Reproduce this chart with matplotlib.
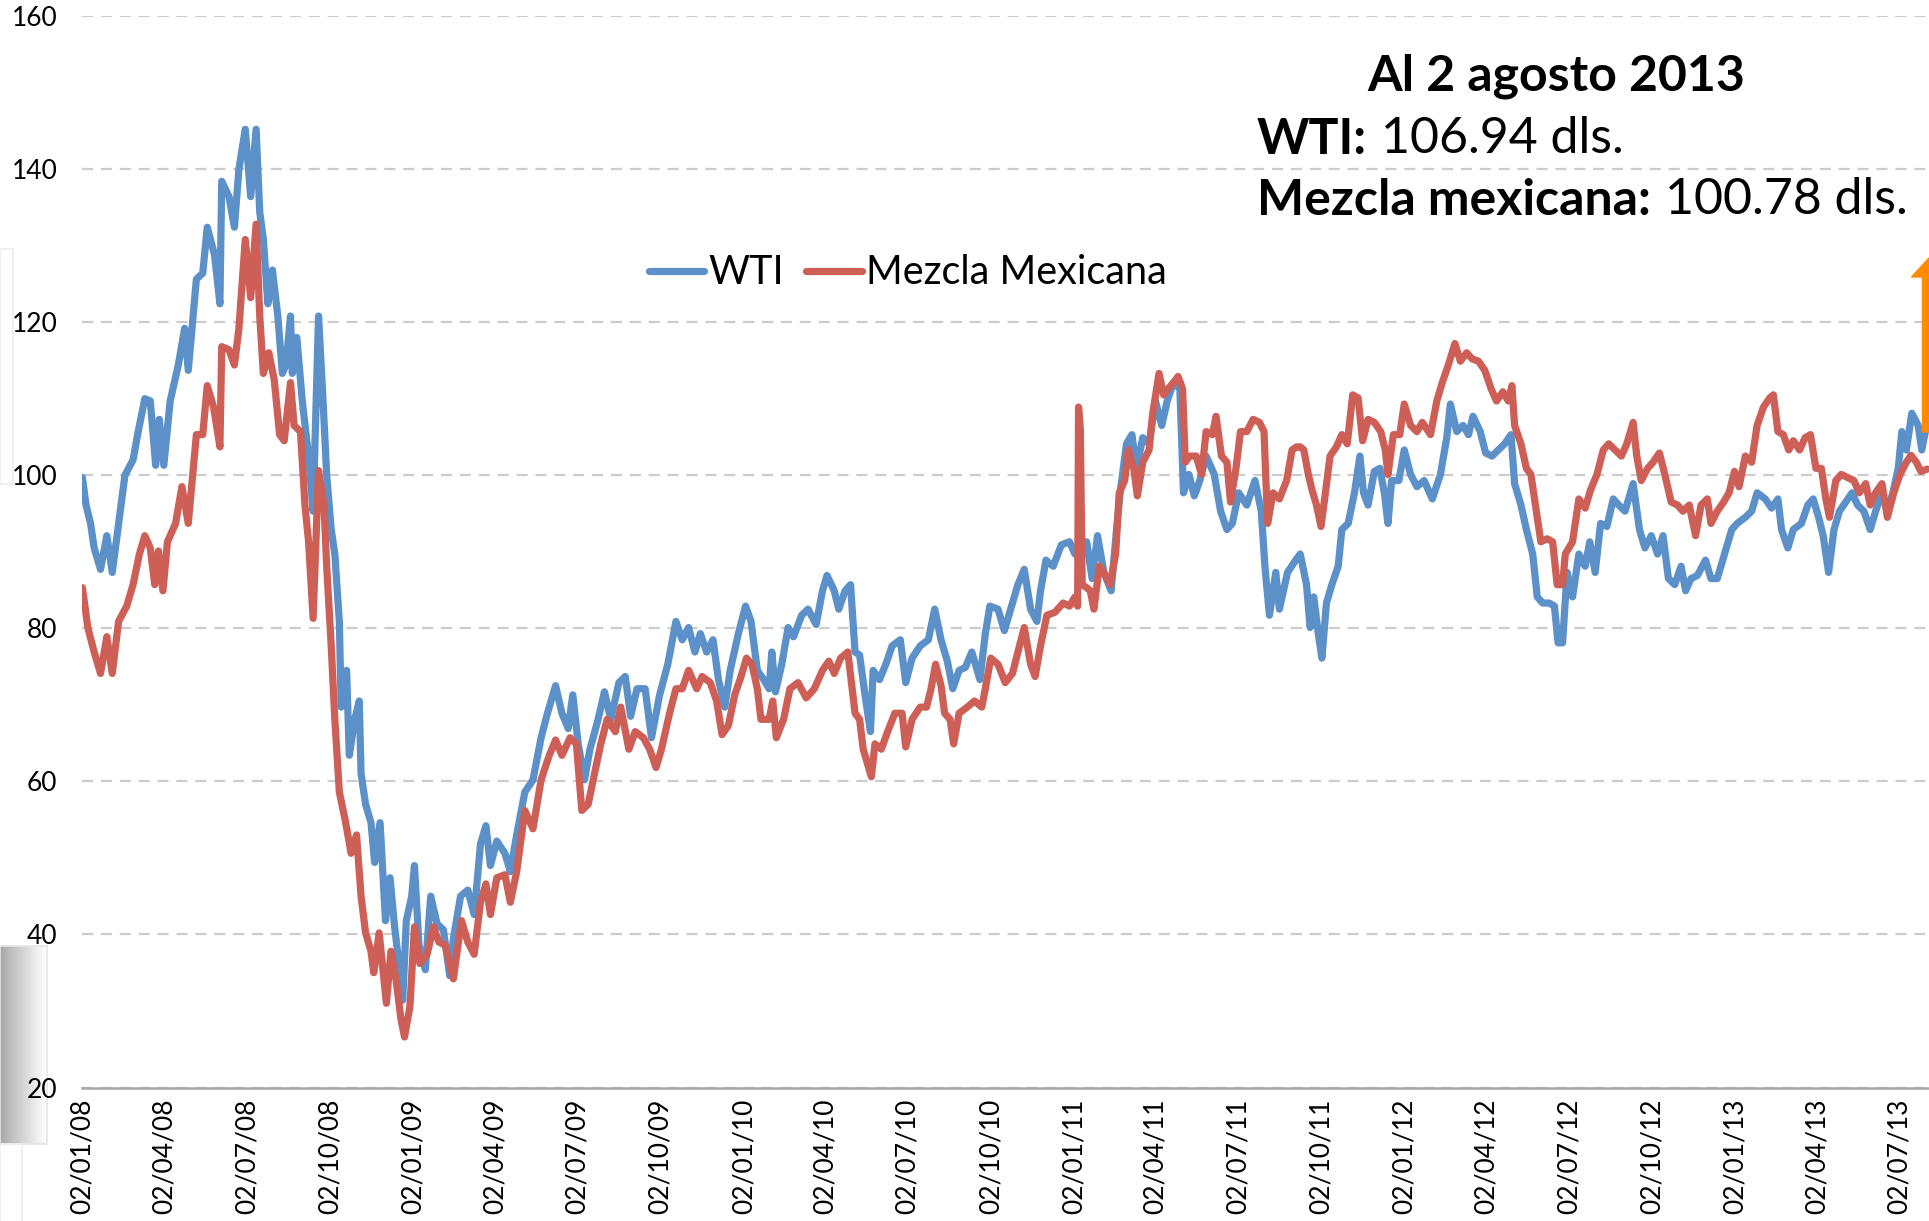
import numpy as np
import matplotlib
matplotlib.use('Agg')
import matplotlib.pyplot as plt
import matplotlib.dates as mdates
import matplotlib.patches as mpatches
from matplotlib.transforms import IdentityTransform

plt.rcParams['font.family'] = ['Lato', 'DejaVu Sans']

# days counted from 02/01/2008
start = np.datetime64('2008-01-02')

wti_day = [
    0, 4, 9, 13, 20, 27, 33, 40, 47, 56, 61, 69, 75, 81, 85, 90, 97, 106, 113, 117,
    126, 133, 138, 146, 152, 154, 162, 168, 173, 180, 186, 192, 196, 200, 205, 210,
    216, 221, 225, 230, 232, 237, 243, 250, 255, 261, 266, 270, 275, 279, 284, 286,
    292, 295, 301, 306, 308, 313, 319, 323, 329, 335, 340, 345, 349, 354, 358, 364,
    367, 372, 379, 385, 392, 399, 406, 410, 418, 426, 433, 440, 446, 451, 458, 467,
    473, 480, 489, 498, 507, 514, 523, 530, 537, 542, 548, 555, 561, 570, 577, 584,
    593, 600, 606, 613, 622, 629, 638, 647, 656, 663, 670, 677, 683, 690, 697, 703,
    710, 716, 725, 733, 739, 746, 753, 759, 762, 766, 773, 780, 786, 795, 802, 811,
    818, 823, 831, 836, 843, 849, 854, 859, 865, 871, 874, 881, 888, 895, 904, 910,
    917, 926, 935, 942, 949, 956, 962, 969, 976, 983, 992, 998, 1003, 1012, 1019,
    1025, 1034, 1041, 1048, 1055, 1059, 1065, 1073, 1082, 1091, 1097, 1104, 1110,
    1116, 1122, 1129, 1137, 1143, 1147, 1154, 1160, 1165, 1172, 1179, 1186, 1193,
    1199, 1206, 1213, 1217, 1223, 1229, 1235, 1242, 1251, 1258, 1265, 1271, 1278,
    1287, 1296, 1303, 1307, 1312, 1319, 1323, 1332, 1341, 1346, 1353, 1357, 1361,
    1366, 1370, 1375, 1381, 1388, 1392, 1399, 1406, 1412, 1416, 1421, 1428, 1434,
    1439, 1443, 1447, 1455, 1461, 1468, 1475, 1483, 1492, 1501, 1508, 1512, 1519,
    1526, 1532, 1537, 1545, 1551, 1558, 1565, 1572, 1579, 1583, 1590, 1596, 1603,
    1608, 1614, 1621, 1627, 1631, 1636, 1641, 1647, 1654, 1661, 1666, 1672, 1678,
    1685, 1692, 1698, 1705, 1714, 1721, 1727, 1734, 1741, 1747, 1753, 1760, 1767,
    1772, 1778, 1785, 1794, 1800, 1807, 1814, 1823, 1829, 1838, 1845, 1851, 1860,
    1867, 1874, 1878, 1885, 1891, 1900, 1907, 1913, 1919, 1924, 1930, 1936, 1942,
    1949, 1956, 1962, 1969, 1976, 1982, 1989, 1995, 2001, 2007, 2011, 2016, 2022,
    2029, 2033, 2039]
wti_price = [
    99.7, 96.1, 93.7, 90.5, 87.7, 92.1, 87.3, 93.7, 100.0, 102.0, 105.3, 110.0, 109.7,
    101.3, 107.3, 101.3, 109.7, 114.4, 119.2, 113.7, 125.6, 126.4, 132.4, 128.8, 122.4,
    138.4, 136.4, 132.4, 140.0, 145.2, 136.4, 145.2, 134.4, 130.8, 122.4, 126.8, 120.8,
    113.3, 114.4, 120.8, 113.3, 118.0, 109.7, 102.5, 95.3, 120.8, 109.7, 100.0, 92.9,
    89.7, 80.9, 69.7, 74.5, 63.4, 68.1, 70.5, 61.0, 57.0, 54.6, 49.4, 54.6, 41.8, 47.4,
    41.1, 37.0, 31.4, 41.8, 45.0, 49.0, 38.6, 35.4, 45.0, 41.4, 40.6, 34.6, 39.4, 45.0,
    45.8, 42.6, 51.8, 54.2, 49.0, 52.2, 50.6, 48.2, 53.0, 58.6, 60.2, 65.7, 68.9, 72.5,
    68.9, 66.9, 71.3, 64.9, 60.2, 64.2, 68.1, 71.7, 68.1, 72.9, 73.7, 68.5, 72.1, 72.1,
    65.7, 71.3, 75.3, 80.9, 78.5, 80.1, 76.9, 79.3, 76.9, 78.5, 73.3, 69.7, 74.5, 79.3,
    82.9, 80.9, 74.5, 73.3, 72.1, 76.9, 71.7, 75.3, 80.1, 78.9, 81.7, 82.5, 80.5, 84.9,
    86.9, 84.9, 82.5, 84.9, 85.7, 76.9, 76.5, 71.3, 66.5, 74.5, 73.3, 75.3, 77.7, 78.5,
    72.9, 76.1, 77.7, 78.5, 82.5, 78.5, 75.7, 72.1, 74.5, 74.9, 76.9, 73.3, 79.3, 82.9,
    82.5, 79.7, 82.1, 85.7, 87.7, 82.5, 80.9, 84.9, 88.9, 88.1, 90.9, 91.3, 89.7, 90.5,
    91.3, 86.5, 92.1, 87.3, 84.9, 92.9, 97.7, 104.1, 105.3, 100.9, 104.9, 104.1, 109.7,
    106.5, 109.7, 112.1, 111.3, 97.7, 100.1, 97.3, 99.3, 102.5, 100.1, 95.3, 92.9, 93.7,
    97.7, 96.1, 99.3, 95.3, 88.1, 81.7, 87.3, 82.5, 87.3, 88.9, 89.7, 85.7, 80.1, 84.1,
    79.3, 76.1, 83.3, 85.7, 88.1, 92.9, 93.7, 97.7, 102.5, 97.7, 96.1, 100.5, 100.9,
    97.7, 93.7, 99.3, 99.3, 103.3, 100.1, 98.5, 99.3, 96.9, 100.1, 104.9, 109.3, 105.7,
    106.5, 105.3, 107.7, 105.7, 102.9, 102.5, 103.3, 104.1, 105.3, 98.9, 96.1, 92.9,
    89.7, 84.1, 83.3, 83.3, 82.9, 78.1, 78.1, 87.3, 84.1, 89.7, 88.1, 91.3, 87.3, 93.7,
    93.3, 96.9, 96.1, 95.3, 98.9, 92.9, 90.5, 92.1, 89.7, 92.1, 86.5, 85.7, 88.1, 84.9,
    86.5, 86.9, 88.9, 86.5, 86.5, 89.3, 92.9, 93.7, 94.5, 95.3, 97.7, 96.9, 95.7, 96.9,
    92.9, 90.5, 92.9, 93.7, 96.1, 96.9, 94.5, 92.1, 87.3, 92.9, 95.3, 96.5, 97.7, 96.1,
    95.3, 92.9, 95.3, 97.7, 95.3, 97.7, 100.9, 105.7, 103.3, 108.1, 106.5, 103.3, 106.9]

mez_day = [
    0, 6, 13, 20, 27, 33, 40, 49, 56, 63, 69, 75, 80, 84, 89, 94, 103, 110, 117, 126,
    133, 138, 145, 152, 154, 162, 168, 173, 180, 186, 192, 196, 200, 206, 212, 218,
    223, 230, 234, 241, 246, 250, 255, 261, 267, 270, 275, 279, 284, 291, 297, 303,
    308, 313, 319, 322, 328, 336, 341, 347, 352, 356, 362, 367, 373, 381, 388, 394,
    401, 410, 419, 426, 433, 440, 446, 451, 458, 467, 473, 480, 489, 498, 507, 516,
    523, 530, 539, 546, 552, 559, 566, 573, 580, 589, 595, 604, 611, 620, 627, 634,
    640, 649, 656, 663, 670, 679, 685, 694, 701, 707, 714, 721, 728, 734, 740, 746,
    750, 759, 763, 767, 775, 782, 791, 800, 809, 818, 825, 831, 838, 846, 850, 854,
    859, 863, 869, 872, 876, 883, 890, 898, 906, 910, 917, 926, 933, 938, 943, 949,
    953, 959, 963, 969, 978, 986, 994, 998, 1004, 1012, 1020, 1028, 1034, 1041, 1048,
    1053, 1059, 1066, 1075, 1084, 1091, 1097, 1100, 1101, 1103, 1105, 1110, 1114,
    1118, 1124, 1129, 1136, 1142, 1146, 1152, 1156, 1162, 1166, 1172, 1179, 1183,
    1190, 1195, 1200, 1206, 1211, 1216, 1219, 1224, 1231, 1237, 1242, 1249, 1253,
    1259, 1265, 1269, 1275, 1280, 1287, 1294, 1301, 1306, 1310, 1316, 1323, 1331,
    1337, 1342, 1346, 1350, 1355, 1359, 1364, 1369, 1373, 1379, 1386, 1392, 1398,
    1404, 1410, 1415, 1421, 1428, 1435, 1440, 1443, 1449, 1456, 1461, 1468, 1475,
    1481, 1490, 1497, 1503, 1510, 1517, 1523, 1530, 1536, 1543, 1550, 1557, 1563,
    1570, 1576, 1580, 1583, 1590, 1596, 1601, 1607, 1612, 1619, 1625, 1630, 1636,
    1639, 1647, 1654, 1661, 1667, 1674, 1681, 1687, 1694, 1701, 1707, 1714, 1718,
    1723, 1730, 1736, 1743, 1749, 1756, 1763, 1769, 1776, 1783, 1789, 1796, 1800,
    1807, 1814, 1820, 1826, 1831, 1838, 1845, 1851, 1858, 1865, 1869, 1874, 1880,
    1886, 1891, 1898, 1904, 1910, 1916, 1922, 1927, 1931, 1938, 1944, 1951, 1958,
    1964, 1971, 1976, 1982, 1989, 1995, 2002, 2009, 2016, 2021, 2027, 2032, 2039]
mez_price = [
    85.3, 80.1, 76.9, 74.1, 78.9, 74.1, 80.9, 82.9, 85.7, 89.7, 92.1, 90.5, 85.7, 90.1,
    84.9, 91.3, 93.7, 98.5, 93.7, 105.3, 105.3, 111.7, 108.9, 103.7, 116.8, 116.4,
    114.4, 119.2, 130.8, 123.2, 132.8, 120.8, 113.3, 116.0, 112.5, 105.3, 104.5, 112.1,
    106.5, 105.7, 96.1, 91.3, 81.3, 100.6, 96.1, 88.1, 77.7, 68.1, 58.6, 54.6, 50.6,
    53.0, 45.0, 40.2, 37.8, 35.0, 40.2, 31.0, 37.8, 33.8, 29.0, 26.6, 30.6, 41.0, 36.2,
    37.4, 41.0, 39.0, 38.6, 34.2, 41.8, 39.0, 37.4, 44.2, 46.6, 42.6, 47.4, 47.8, 44.2,
    48.2, 56.2, 53.8, 60.2, 63.4, 65.4, 63.4, 65.7, 64.9, 56.2, 57.0, 61.0, 64.9, 68.1,
    66.5, 69.7, 64.2, 66.5, 65.7, 64.2, 61.8, 64.2, 68.9, 72.1, 72.1, 74.5, 72.1, 73.7,
    72.9, 70.5, 66.1, 67.3, 71.3, 73.7, 76.1, 75.3, 72.1, 68.1, 68.1, 70.5, 65.7, 68.1,
    72.1, 72.9, 70.9, 72.1, 74.5, 75.7, 74.1, 76.1, 76.9, 72.9, 68.9, 68.1, 64.2, 61.8,
    60.6, 64.9, 64.2, 66.5, 68.9, 68.9, 64.5, 68.1, 69.7, 69.7, 72.1, 75.3, 72.5, 68.9,
    68.1, 64.9, 68.9, 69.7, 70.5, 69.7, 72.1, 76.1, 75.3, 72.9, 74.1, 76.9, 80.1, 75.3,
    73.7, 77.7, 81.7, 82.1, 83.3, 82.9, 84.1, 82.9, 108.9, 106.0, 85.7, 85.3, 84.9,
    82.5, 88.1, 87.3, 85.7, 89.7, 97.7, 99.3, 103.3, 100.9, 97.3, 101.7, 103.3, 108.1,
    113.3, 110.5, 111.3, 112.1, 112.9, 111.3, 101.7, 102.5, 102.5, 100.1, 105.7, 105.3,
    107.7, 102.5, 101.7, 96.5, 100.9, 105.7, 105.7, 107.3, 106.9, 105.7, 93.7, 97.7,
    96.9, 99.3, 103.3, 103.7, 103.7, 103.3, 100.1, 98.1, 96.1, 93.3, 96.9, 102.5, 103.7,
    105.3, 104.1, 110.5, 110.1, 104.5, 107.3, 106.9, 105.7, 103.3, 100.1, 105.3, 105.3,
    109.3, 106.5, 105.7, 106.9, 105.3, 109.7, 112.1, 114.5, 117.2, 114.9, 116.0, 115.2,
    114.9, 113.7, 111.3, 109.7, 110.9, 109.7, 111.7, 106.5, 104.1, 100.9, 100.1, 95.3,
    91.3, 91.7, 91.3, 85.7, 85.7, 89.7, 91.3, 96.9, 95.7, 98.1, 100.1, 103.3, 104.1,
    103.3, 102.5, 104.1, 106.9, 102.5, 99.3, 100.9, 101.7, 102.9, 100.1, 96.5, 96.1,
    95.3, 96.1, 92.1, 96.1, 96.9, 93.7, 95.3, 96.5, 97.7, 100.5, 98.5, 102.5, 101.7,
    106.5, 108.9, 110.1, 110.5, 105.7, 105.3, 103.3, 104.5, 103.3, 104.9, 105.3, 100.9,
    100.9, 96.9, 94.5, 99.3, 100.1, 99.7, 99.3, 97.7, 98.9, 96.1, 97.7, 98.9, 94.5,
    97.7, 100.1, 101.7, 102.6, 101.7, 100.5, 100.8]

y_ticks = [20, 40, 60, 80, 100, 120, 140, 160]
tick_dates = np.arange(np.datetime64('2008-01-02'), np.datetime64('2013-08-01'),
                       np.timedelta64(1, 'D'))
tick_dates = [d for d in tick_dates.astype('datetime64[D]').tolist()
              if d.day == 2 and d.month in (1, 4, 7, 10)]

series_names = ['WTI', 'Mezcla Mexicana']
note_title = 'Al 2 agosto 2013'
note_lines = [('WTI:', '106.94 dls.'), ('Mezcla mexicana:', '100.78 dls.')]

blue = '#5B90C8'
red = '#CD5F57'

W, H = 1929, 1221
fig = plt.figure(figsize=(W / 100, H / 100), dpi=100)
fig.patch.set_facecolor('white')

# slide leftovers on the left edge
bg = fig.add_axes([0, 0, 1, 1], zorder=-5)
bg.set_xlim(0, W)
bg.set_ylim(H, 0)
bg.axis('off')
grad = np.linspace(0.55, 1.0, 64) ** 0.7
bg.imshow(np.tile(grad, (10, 1)), cmap='gray', vmin=0, vmax=1,
          extent=[0, 47, 1144, 946], aspect='auto', zorder=1)
bg.add_patch(mpatches.Rectangle((0, 946), 47, 198, fill=False, ec='#e6e6e6', lw=1.2, zorder=2))
bg.add_patch(mpatches.Rectangle((0, 249), 13, 235, fill=False, ec='#eeeeee', lw=1.2, zorder=2))
bg.add_patch(mpatches.Rectangle((0, 1144), 22, 90, fill=False, ec='#eeeeee', lw=1.2, zorder=2))

ax = fig.add_axes([82.4 / W, (H - 1087.5) / H, (W - 82.4) / W, (1087.5 - 16) / H])
ax.patch.set_alpha(0)

x_wti = start + np.array(wti_day, dtype='timedelta64[D]')
x_mez = start + np.array(mez_day, dtype='timedelta64[D]')

l1, = ax.plot(x_wti, wti_price, color=blue, lw=5.2, solid_joinstyle='round',
              solid_capstyle='round', label=series_names[0], zorder=3)
l2, = ax.plot(x_mez, mez_price, color=red, lw=5.2, solid_joinstyle='round',
              solid_capstyle='round', label=series_names[1], zorder=4)

ax.set_ylim(20, 160)
ax.set_xlim(start, start + np.timedelta64(2041, 'D'))
ax.set_yticks(y_ticks)
ax.set_xticks(tick_dates)
ax.xaxis.set_major_formatter(mdates.DateFormatter('%d/%m/%y'))
ax.tick_params(axis='x', length=0, labelsize=19, rotation=90, pad=8)
ax.tick_params(axis='y', length=0, labelsize=19, pad=18)
for lab in ax.get_xticklabels():
    lab.set_va('top')
    lab.set_ha('center')

ax.yaxis.grid(True, color='#cccccc', lw=1.6, linestyle=(0, (5, 3.5)))
ax.set_axisbelow(True)
for s in ['top', 'right', 'left']:
    ax.spines[s].set_visible(False)
ax.spines['bottom'].set_color('#a6a6a6')
ax.spines['bottom'].set_linewidth(1.8)
ax.spines['bottom'].set_zorder(5)

leg = fig.legend(handles=[l1, l2], loc='center', bbox_to_anchor=(908 / W, 1 - 273 / H),
                 ncol=2, frameon=False, fontsize=28.5, handlelength=1.4,
                 handletextpad=0.12, columnspacing=0.55)

# note at top right
fig.text(1556 / W, 1 - 76 / H, note_title, ha='center', va='center',
         fontsize=36, fontweight='bold')
renderer = fig.canvas.get_renderer()
for (bold_part, plain_part), yy in zip(note_lines, [139, 200.5]):
    t = fig.text(1257 / W, 1 - yy / H, bold_part, ha='left', va='center',
                 fontsize=36, fontweight='bold')
    bb = t.get_window_extent(renderer=renderer)
    fig.text(bb.x1 / W + 14 / W, 1 - yy / H, plain_part, ha='left', va='center',
             fontsize=36)

# orange arrow cut by the right edge
arrow = mpatches.FancyArrow(1929, H - 432, 0, 432 - 258, width=13, head_width=35,
                            head_length=19, length_includes_head=True,
                            color='#FF8C00', transform=IdentityTransform(),
                            figure=fig, zorder=10)
fig.patches.append(arrow)

fig.savefig('out.png', dpi=100)
